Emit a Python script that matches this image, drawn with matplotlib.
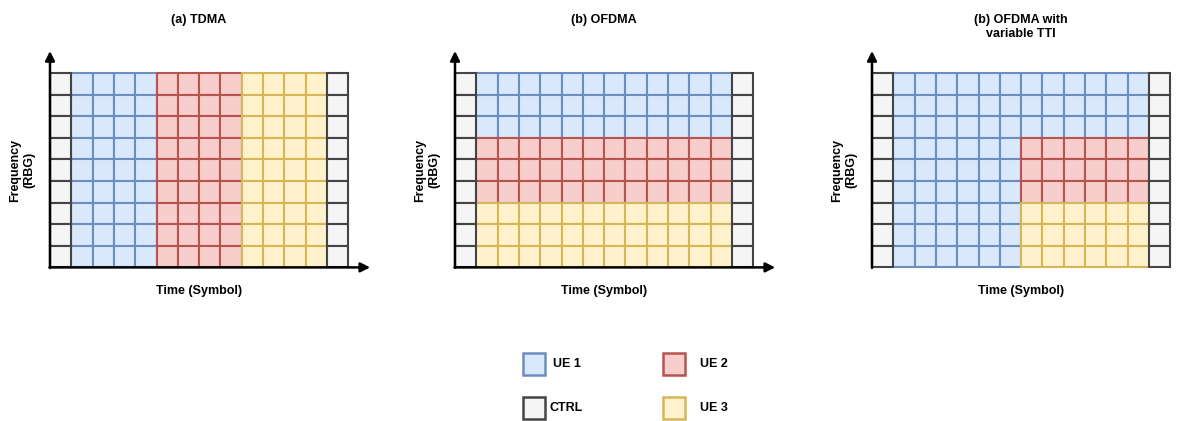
import numpy as np
import matplotlib.pyplot as plt
from matplotlib.patches import Rectangle

plt.rcParams['font.family'] = ['Liberation Sans', 'DejaVu Sans']

# scheduling grids: one string per RBG row (top to bottom), one char per symbol
# C = control, 1/2/3 = UE
tdma_grid = ['C111122223333C'] * 9
ofdma_grid = ['C111111111111C'] * 3 + ['C222222222222C'] * 3 + ['C333333333333C'] * 3
vtti_grid = ['C111111111111C'] * 3 + ['C111111222222C'] * 3 + ['C111111333333C'] * 3

titles = ['(a) TDMA', '(b) OFDMA', '(b) OFDMA with\nvariable TTI']
grids = [tdma_grid, ofdma_grid, vtti_grid]
legend_labels = ['UE 1', 'UE 2', 'CTRL', 'UE 3']
legend_keys = ['1', '2', 'C', '3']

# draw.io style colours (fill, edge)
COLORS = {
    '1': ('#dae8fc', '#6c8ebf'),
    '2': ('#f8cecc', '#b85450'),
    '3': ('#fff2cc', '#d6b656'),
    'C': ('#f5f5f5', '#444444'),
}

W, H = 1190, 421
fig = plt.figure(figsize=(W / 100, H / 100), dpi=100)
ax = fig.add_axes([0, 0, 1, 1])
ax.set_xlim(0, W)
ax.set_ylim(H, 0)
ax.axis('off')

x_starts = [50, 455, 872]
y0 = 73
cw, ch = 21.3, 21.6

for x0, grid, title in zip(x_starts, grids, titles):
    nrow, ncol = len(grid), len(grid[0])
    gw, gh = ncol * cw, nrow * ch
    # data cells first, ctrl cells on top
    for order in ['123', 'C']:
        for r, row in enumerate(grid):
            for c, key in enumerate(row):
                if key not in order:
                    continue
                fc, ec = COLORS[key]
                ax.add_patch(Rectangle((x0 + c * cw, y0 + r * ch), cw, ch,
                                       facecolor=fc, edgecolor=ec, lw=1.5, zorder=2))
    # axes arrows
    yb = y0 + gh
    ax.annotate('', xy=(x0, y0 - 22), xytext=(x0, yb + 0.5),
                arrowprops=dict(arrowstyle='-|>', color='black', lw=1.8,
                                mutation_scale=14, shrinkA=0, shrinkB=0), zorder=3)
    ax.annotate('', xy=(x0 + gw + 22, yb), xytext=(x0 - 0.5, yb),
                arrowprops=dict(arrowstyle='-|>', color='black', lw=1.8,
                                mutation_scale=14, shrinkA=0, shrinkB=0), zorder=3)
    cx = x0 + gw / 2
    if '\n' in title:
        ax.text(cx, 27, title, ha='center', va='center', fontsize=9,
                fontweight='bold', linespacing=1.25)
    else:
        ax.text(cx, 20, title, ha='center', va='center', fontsize=9, fontweight='bold')
    ax.text(cx, 291, 'Time (Symbol)', ha='center', va='center', fontsize=9,
            fontweight='bold')
    ax.text(x0 - 28, y0 + gh / 2, 'Frequency\n(RBG)', ha='center', va='center',
            rotation=90, fontsize=9, fontweight='bold', linespacing=1.25)

# legend
leg_pos = [(523, 353), (663, 353), (523, 397), (663, 397)]
txt_dx = [30, 37, 26, 37]
for (lx, ly), key, lab, dx in zip(leg_pos, legend_keys, legend_labels, txt_dx):
    fc, ec = COLORS[key]
    ax.add_patch(Rectangle((lx, ly), 22, 22, facecolor=fc, edgecolor=ec, lw=1.8))
    ax.text(lx + dx, ly + 11, lab, ha='left', va='center', fontsize=9,
            fontweight='bold')

plt.savefig('out.png', dpi=100)
plt.close()
